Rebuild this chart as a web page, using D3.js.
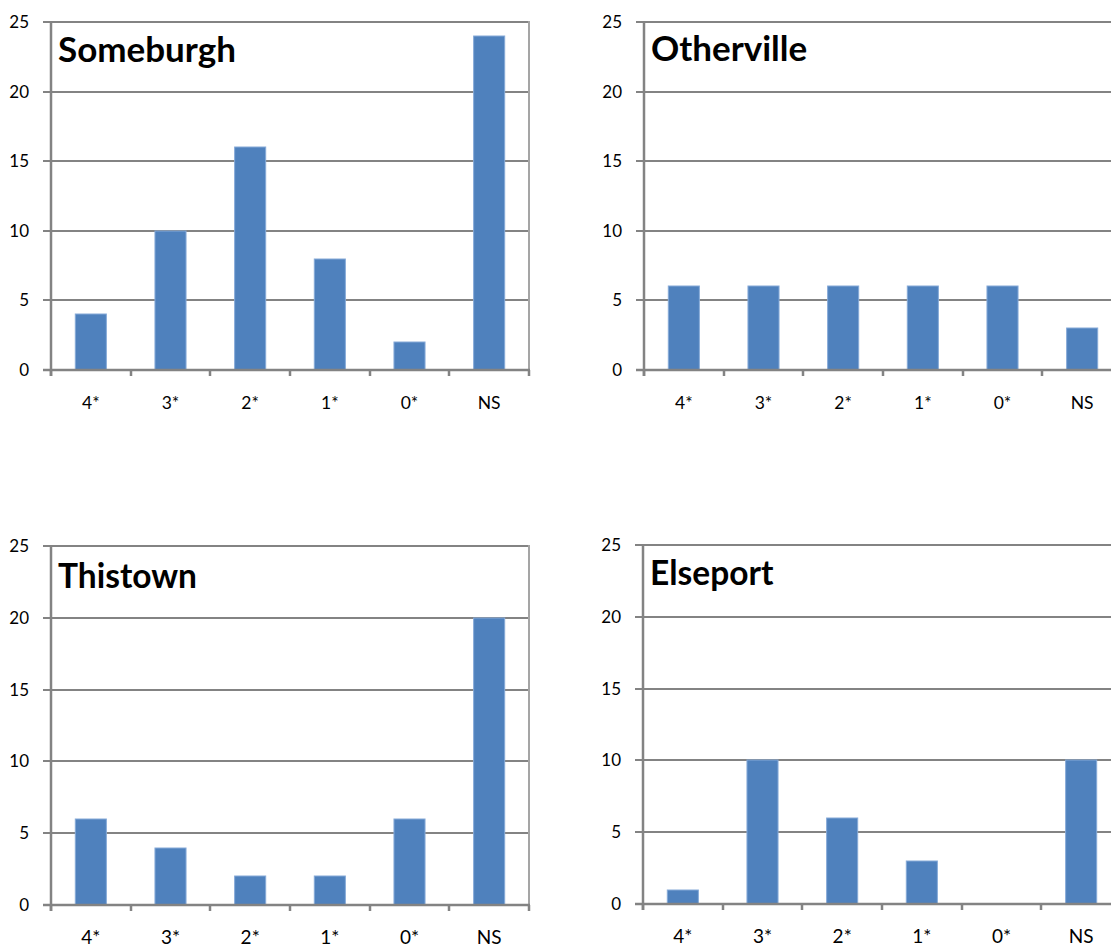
<!DOCTYPE html>
<html>
<head>
<meta charset="utf-8">
<script src="https://cdn.jsdelivr.net/npm/d3@7"></script>
<style>
  html, body { margin: 0; padding: 0; background: #fff; }
  svg { display: block; }
  text { font-family: Lato, "Open Sans", sans-serif; fill: #000; }
</style>
</head>
<body>
<svg id="chart" width="1111" height="947"></svg>
<script>
// Star ratings per town
const categories = ["4*", "3*", "2*", "1*", "0*", "NS"];
const someburgh  = [4, 10, 16, 8, 2, 24];
const otherville = [6, 6, 6, 6, 6, 3];
const thistown   = [6, 4, 2, 2, 6, 20];
const elseport   = [1, 10, 6, 3, 0, 10];
const towns      = ["Someburgh", "Otherville", "Thistown", "Elseport"];
const yTicks     = [0, 5, 10, 15, 20, 25];

const seriesByTown = [someburgh, otherville, thistown, elseport];

// Plot-area placement of each small multiple
const panels = [
  { left: 51,  top: 22,  bottom: 370, titleY: 62,  titleSize: 35,   xFont: 17.5, xLabelDy: 38.5 },
  { left: 644, top: 22,  bottom: 370, titleY: 61,  titleSize: 35,   xFont: 17.5, xLabelDy: 38.5 },
  { left: 51,  top: 546, bottom: 905, titleY: 588, titleSize: 33.5, xFont: 19,   xLabelDy: 38.5 },
  { left: 643, top: 545, bottom: 904, titleY: 585, titleSize: 33.5, xFont: 19,   xLabelDy: 39 }
];
const step = 79.7;
const gridColor = "#838383";
const borderColor = "#a5a5a5";
const barColor = "#4f81bd";

const svg = d3.select("#chart");

panels.forEach((p, i) => {
  const values = seriesByTown[i];
  const right = Math.round(p.left + step * categories.length);

  const x = d3.scaleBand()
    .domain(categories)
    .range([p.left, right])
    .paddingInner(0.61)
    .paddingOuter(0.305);

  // category boundaries for the tick marks
  const edge = d3.scaleLinear()
    .domain([0, categories.length])
    .range([p.left, right])
    .interpolate(d3.interpolateRound);

  const y = d3.scaleLinear()
    .domain([0, 25])
    .range([p.bottom, p.top])
    .interpolate(d3.interpolateRound);

  const g = svg.append("g");

  // horizontal gridlines (with the outward tick on the left)
  g.selectAll("line.grid")
    .data(yTicks.filter(t => t > 0))
    .join("line")
    .attr("class", "grid")
    .attr("x1", p.left - 8)
    .attr("x2", right)
    .attr("y1", d => y(d))
    .attr("y2", d => y(d))
    .attr("stroke", gridColor)
    .attr("stroke-width", 2);

  // right border of plot area
  g.append("line")
    .attr("x1", right).attr("x2", right)
    .attr("y1", y(25) - 1).attr("y2", y(0))
    .attr("stroke", borderColor)
    .attr("stroke-width", 2);

  // bars
  g.selectAll("rect.bar")
    .data(values.map((v, j) => ({ cat: categories[j], v })))
    .join("rect")
    .attr("class", "bar")
    .attr("x", d => x(d.cat))
    .attr("width", x.bandwidth())
    .attr("y", d => y(d.v))
    .attr("height", d => y(0) - y(d.v))
    .attr("fill", barColor)
    .attr("stroke", "#86aad8")
    .attr("stroke-width", 1);

  // y axis line
  g.append("line")
    .attr("x1", p.left).attr("x2", p.left)
    .attr("y1", y(25) - 1).attr("y2", y(0) + 6)
    .attr("stroke", gridColor)
    .attr("stroke-width", 2.5);

  // x axis line
  g.append("line")
    .attr("x1", p.left - 8).attr("x2", right + 1)
    .attr("y1", y(0)).attr("y2", y(0))
    .attr("stroke", gridColor)
    .attr("stroke-width", 2.5);

  // x tick marks at category edges
  g.selectAll("line.xtick")
    .data(d3.range(categories.length + 1))
    .join("line")
    .attr("class", "xtick")
    .attr("x1", d => edge(d)).attr("x2", d => edge(d))
    .attr("y1", y(0)).attr("y2", y(0) + 6)
    .attr("stroke", gridColor)
    .attr("stroke-width", 2.5);

  // y tick labels
  g.selectAll("text.ylab")
    .data(yTicks)
    .join("text")
    .attr("class", "ylab")
    .attr("x", p.left - 22)
    .attr("y", d => y(d))
    .attr("dy", "0.36em")
    .attr("text-anchor", "end")
    .attr("font-size", 17)
    .text(d => d);

  // x tick labels
  g.selectAll("text.xlab")
    .data(categories)
    .join("text")
    .attr("class", "xlab")
    .attr("x", d => x(d) + x.bandwidth() / 2)
    .attr("y", y(0) + p.xLabelDy)
    .attr("text-anchor", "middle")
    .attr("font-size", p.xFont)
    .text(d => d);

  // panel title
  g.append("text")
    .attr("x", p.left + 7)
    .attr("y", p.titleY)
    .attr("font-size", p.titleSize)
    .attr("font-weight", "bold")
    .text(towns[i]);
});
</script>
</body>
</html>
